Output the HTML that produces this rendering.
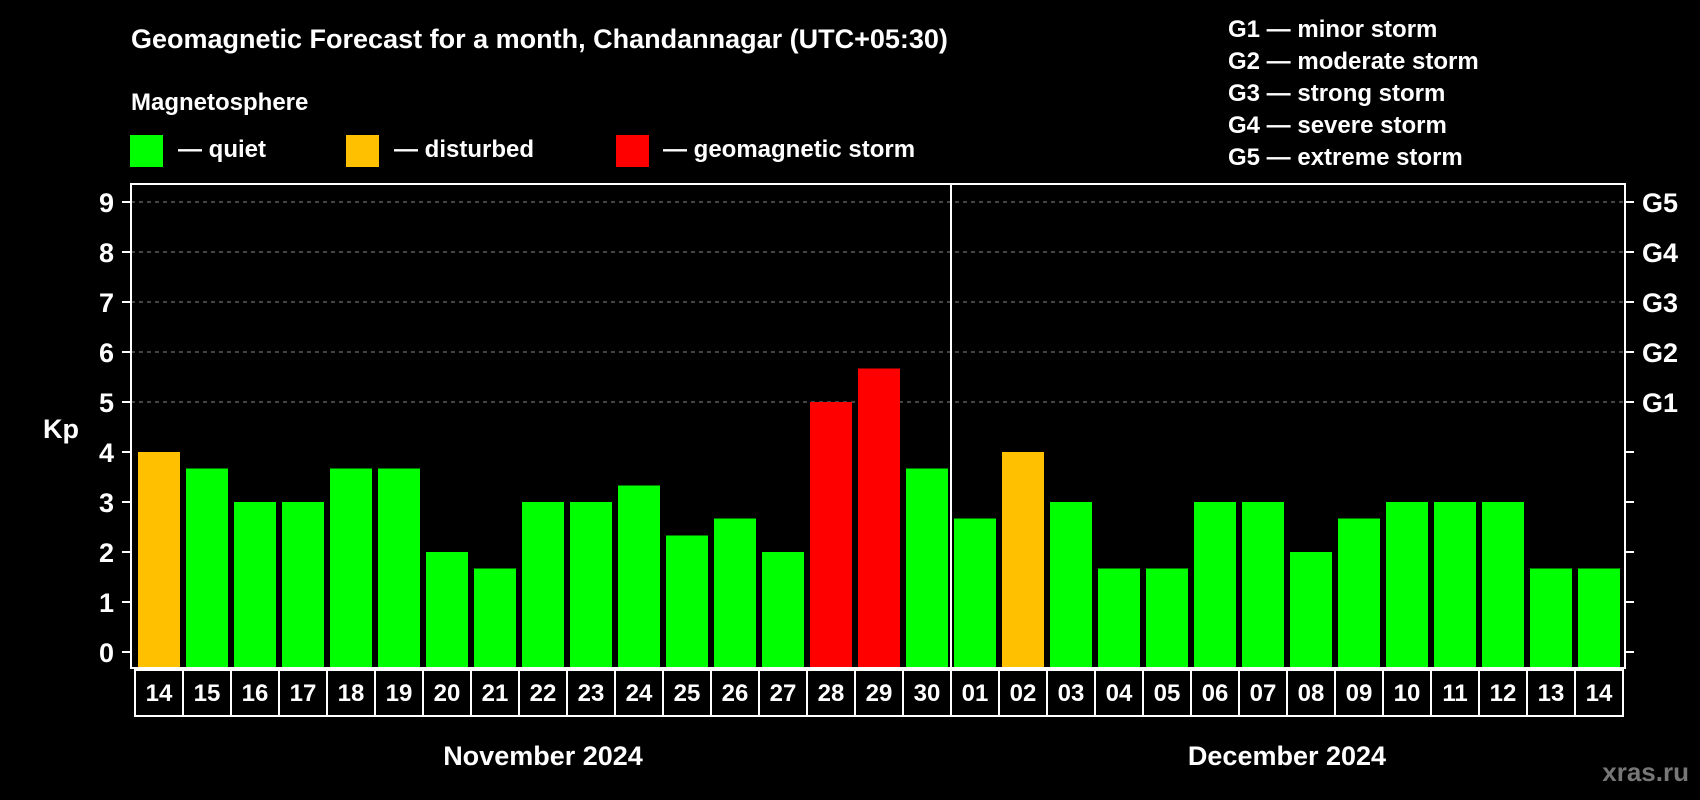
<!DOCTYPE html>
<html><head><meta charset="utf-8"><style>
body{margin:0;background:#000;width:1700px;height:800px;overflow:hidden}
svg{display:block;font-family:"Liberation Sans",sans-serif;font-weight:bold}
</style></head><body>
<svg id="chart" width="1700" height="800" xmlns="http://www.w3.org/2000/svg">
<rect width="1700" height="800" fill="#000"/>
<text x="131" y="48" fill="#fff" font-size="27">Geomagnetic Forecast for a month, Chandannagar (UTC+05:30)</text>
<text x="131" y="110" fill="#fff" font-size="24">Magnetosphere</text>
<rect x="130" y="135" width="33" height="32" fill="#00ff00"/>
<text x="178" y="157" fill="#fff" font-size="24">— quiet</text>
<rect x="346" y="135" width="33" height="32" fill="#ffc000"/>
<text x="394" y="157" fill="#fff" font-size="24">— disturbed</text>
<rect x="616" y="135" width="33" height="32" fill="#ff0000"/>
<text x="663" y="157" fill="#fff" font-size="24">— geomagnetic storm</text>
<g fill="#fff" font-size="24">
<text x="1228" y="37">G1 — minor storm</text>
<text x="1228" y="69">G2 — moderate storm</text>
<text x="1228" y="101">G3 — strong storm</text>
<text x="1228" y="133">G4 — severe storm</text>
<text x="1228" y="165">G5 — extreme storm</text>
</g>
<text x="43" y="438" fill="#fff" font-size="27">Kp</text>
<text x="543" y="765" fill="#fff" font-size="27" text-anchor="middle">November 2024</text>
<text x="1287" y="765" fill="#fff" font-size="27" text-anchor="middle">December 2024</text>
<text x="1689" y="781" fill="#777" font-size="26" text-anchor="end">xras.ru</text>
<g id="plot"></g>
</svg>
<script>
const days=["14","15","16","17","18","19","20","21","22","23","24","25","26","27","28","29","30","01","02","03","04","05","06","07","08","09","10","11","12","13","14"];
const kpValues=[4,3.67,3,3,3.67,3.67,2,1.67,3,3,3.33,2.33,2.67,2,5,5.67,3.67,2.67,4,3,1.67,1.67,3,3,2,2.67,3,3,3,1.67,1.67];
const yTicks=[0,1,2,3,4,5,6,7,8,9];
const gLabels=["G1","G2","G3","G4","G5"];
const gLevels=[5,6,7,8,9];
const monthBreakIndex=17;

const NS="http://www.w3.org/2000/svg";
const plotL=131,plotR=1625,plotT=184,plotB=668;
const y0=652,unit=50,x0=138,pitch=48,bw=42;
function yScale(v){return y0-v*unit;}
function xScale(i){return x0+i*pitch;}
const g=document.getElementById('plot');
function mk(tag,attrs,parent){const e=document.createElementNS(NS,tag);for(const k in attrs)e.setAttribute(k,attrs[k]);(parent||g).appendChild(e);return e;}

yTicks.forEach(t=>{
  const y=yScale(t);
  if(t>=5){const l=mk('line',{x1:plotL,x2:plotR,y1:y,y2:y,stroke:'#888','stroke-width':1,'stroke-dasharray':'4,4'});
  
  }
  const tl=mk('line',{x1:plotL-9,x2:plotL,y1:y,y2:y,stroke:'#fff','stroke-width':2});
  
  
  const tr=mk('line',{x1:plotR,x2:plotR+9,y1:y,y2:y,stroke:'#fff','stroke-width':2});
  
  
  const tx=mk('text',{x:114,y:y+10,fill:'#fff','font-size':27,'text-anchor':'end'});
  tx.textContent=t;
  
  
});
gLabels.forEach((lab,i)=>{
  const tx=mk('text',{x:1642,y:yScale(gLevels[i])+10,fill:'#fff','font-size':27});
  tx.textContent=lab;
  
  
});
kpValues.forEach((v,i)=>{
  const col=v>=5?'#ff0000':(v>=4?'#ffc000':'#00ff00');
  const r=mk('rect',{x:xScale(i),y:yScale(v),width:bw,height:plotB-yScale(v),fill:col});
  
  
  const bx=mk('rect',{x:xScale(i)-3,y:670,width:pitch,height:46,fill:'none',stroke:'#fff','stroke-width':2});
  
  
  const tx=mk('text',{x:xScale(i)+bw/2,y:701,fill:'#fff','font-size':24,'text-anchor':'middle'});
  tx.textContent=days[i];
  
  
});
const sep=mk('line',{x1:xScale(monthBreakIndex)-3,x2:xScale(monthBreakIndex)-3,y1:plotT,y2:plotB,stroke:'#fff','stroke-width':2});


const frame=mk('rect',{x:plotL,y:plotT,width:plotR-plotL,height:plotB-plotT,fill:'none',stroke:'#fff','stroke-width':2});


</script>
</body></html>
